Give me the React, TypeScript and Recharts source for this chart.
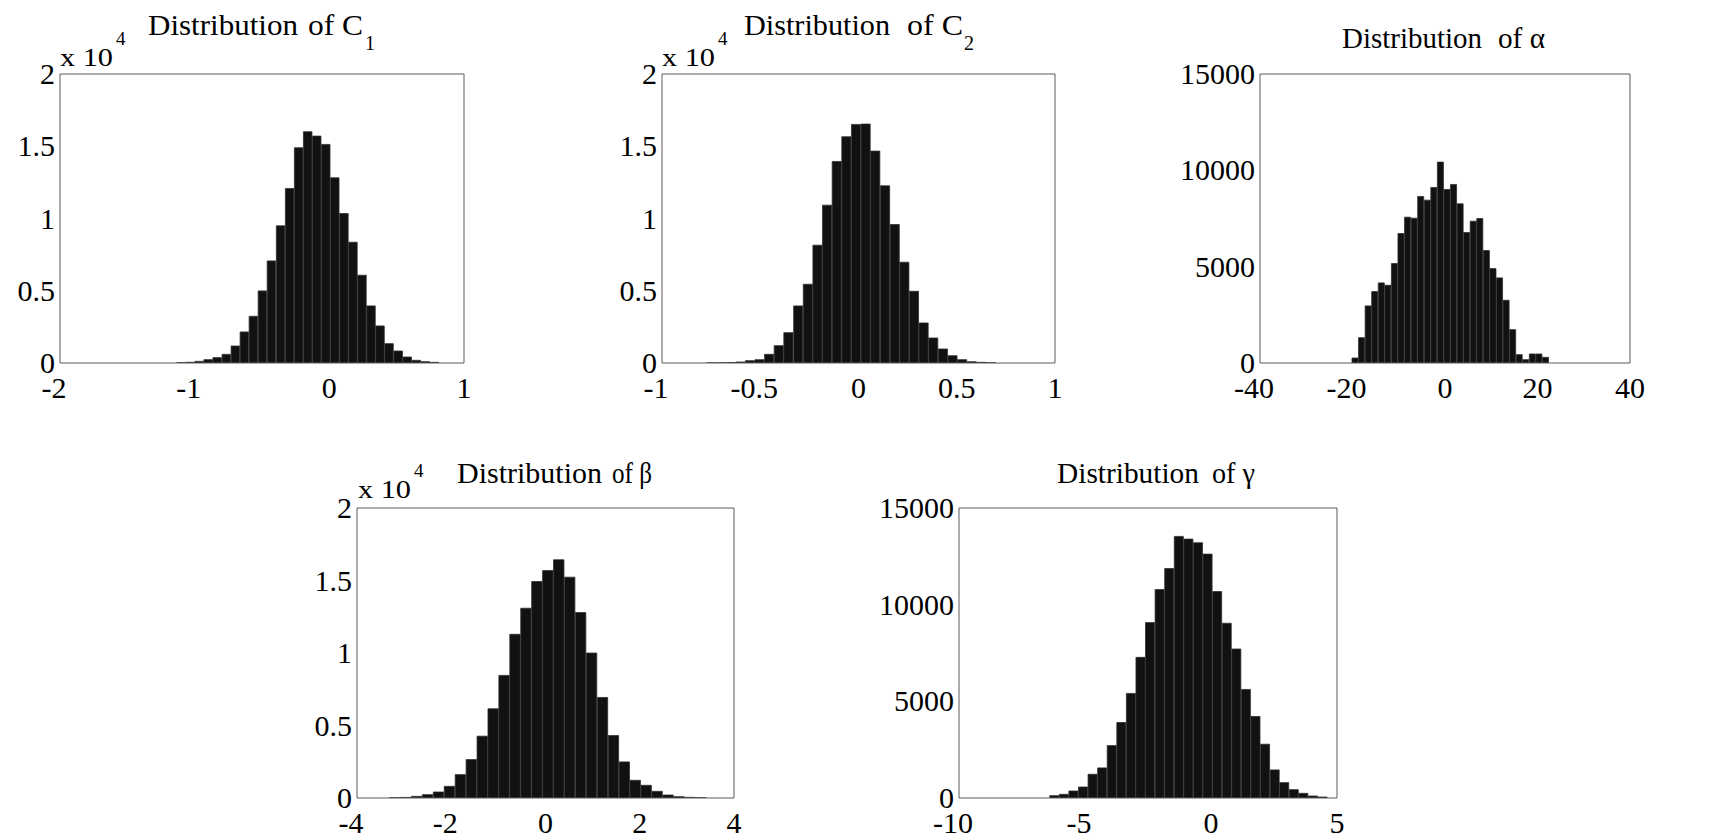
import React from 'react';
import { BarChart, Bar, XAxis, YAxis } from 'recharts';

const FONT = '"Liberation Serif", "Times New Roman", serif';

// bin centres and counts of the five histograms
const c1Bins = [-1.099, -1.032, -0.965, -0.898, -0.831, -0.763, -0.696, -0.629, -0.562, -0.495, -0.428, -0.36, -0.293, -0.226, -0.159, -0.092, -0.025, 0.042, 0.11, 0.177, 0.244, 0.311, 0.378, 0.445, 0.513, 0.58, 0.647, 0.714, 0.781];
const c1Counts = [20, 50, 115, 231, 370, 600, 1178, 2148, 3233, 4988, 7067, 9492, 12079, 14896, 16005, 15704, 15127, 12818, 10346, 8360, 6074, 3949, 2564, 1339, 831, 416, 185, 92, 46];

const c2Bins = [-0.748, -0.699, -0.65, -0.601, -0.552, -0.503, -0.454, -0.405, -0.356, -0.306, -0.257, -0.208, -0.159, -0.11, -0.061, -0.012, 0.037, 0.086, 0.136, 0.185, 0.234, 0.283, 0.332, 0.381, 0.43, 0.479, 0.528, 0.577, 0.627, 0.675];
const c2Counts = [8, 15, 30, 70, 162, 231, 600, 1201, 2102, 3949, 5450, 8152, 10923, 13949, 15658, 16513, 16536, 14665, 12263, 9584, 6975, 4965, 2771, 1732, 970, 508, 231, 92, 46, 20];

const alphaBins = [-19.4, -17.98, -16.56, -15.14, -13.72, -12.3, -10.88, -9.46, -8.04, -6.62, -5.2, -3.78, -2.36, -0.94, 0.48, 1.9, 3.32, 4.74, 6.16, 7.58, 9.0, 10.42, 11.84, 13.26, 14.68, 16.1, 17.52, 18.94, 20.36, 21.78];
const alphaCounts = [260, 1316, 2962, 3707, 4157, 4036, 5162, 6721, 7569, 7517, 8643, 8453, 9111, 10427, 9007, 9267, 8262, 6773, 7362, 7500, 5837, 4902, 4417, 3256, 1732, 433, 173, 468, 468, 294];

const betaBins = [-3.193, -2.961, -2.729, -2.497, -2.265, -2.033, -1.801, -1.569, -1.337, -1.105, -0.874, -0.642, -0.41, -0.178, 0.054, 0.286, 0.518, 0.75, 0.982, 1.214, 1.446, 1.677, 1.909, 2.141, 2.373, 2.605, 2.837, 3.069, 3.301];
const betaCounts = [20, 40, 115, 230, 415, 806, 1613, 2650, 4263, 6152, 8456, 11290, 13088, 14931, 15691, 16429, 15230, 12788, 10000, 6935, 4309, 2488, 1221, 876, 461, 207, 92, 46, 20];

const gammaBins = [-6.21, -5.83, -5.45, -5.07, -4.689, -4.309, -3.929, -3.548, -3.168, -2.788, -2.409, -2.029, -1.648, -1.268, -0.888, -0.507, -0.127, 0.253, 0.633, 1.014, 1.394, 1.774, 2.154, 2.535, 2.915, 3.294, 3.674, 4.055, 4.435];
const gammaCounts = [121, 190, 363, 570, 1227, 1555, 2713, 3905, 5409, 7275, 9072, 10783, 11872, 13531, 13392, 13203, 12615, 10680, 9038, 7707, 5616, 4217, 2782, 1452, 795, 432, 242, 104, 52];

const c1XTicks = [-2, -1, 0, 1];
const c2XTicks = [-1, -0.5, 0, 0.5, 1];
const alphaXTicks = [-40, -20, 0, 20, 40];
const betaXTicks = [-4, -2, 0, 2, 4];
const gammaXTicks = [-10, -5, 0, 5];
const sciYTicks = [0, 5000, 10000, 15000, 20000];
const plainYTicks = [0, 5000, 10000, 15000];

const sciFormat = (v: number) => String(v / 10000);
const plainFormat = (v: number) => String(v);

const ML = 120;
const MT = 24;
const MR = 30;
const MB = 50;

// negative labels: digits sit on the tick, the minus hangs to the left
function XTick({ x, y, payload }: any) {
  return (
    <text x={x} y={y} dy={21} dx={payload.value < 0 ? -6 : 0} textAnchor='middle' fontSize={30} fontFamily={FONT} fill='#000'>
      {String(payload.value)}
    </text>
  );
}

function YTick({ x, y, payload, fmt }: any) {
  return (
    <text x={x} y={y} dy={10} textAnchor='end' fontSize={30} fontFamily={FONT} fill='#000'>
      {fmt(payload.value)}
    </text>
  );
}

function Hist({ bins, counts, binWidth, xTicks, yTicks, yFormat, box }: any) {
  const data = bins.map((x: number, i: number) => ({ x, n: counts[i] }));
  const xDomain = [xTicks[0], xTicks[xTicks.length - 1]];
  const yDomain = [0, yTicks[yTicks.length - 1]];
  const barSize = (binWidth / (xDomain[1] - xDomain[0])) * box.w - 0.5;

  return (
    <div style={{ position: 'absolute', left: box.x - ML, top: box.y - MT }}>
      <BarChart
        width={box.w + ML + MR}
        height={box.h + MT + MB}
        data={data}
        margin={{ top: MT, right: MR, bottom: 0, left: 0 }}
      >
        <XAxis
          xAxisId='b'
          type='number'
          dataKey='x'
          domain={xDomain}
          ticks={xTicks}
          interval={0}
          allowDataOverflow
          height={MB}
          tickLine={false}
          tickSize={0}
          tickMargin={14}
          stroke='#5a5a5a'
          tick={<XTick />}
        />
        <XAxis
          xAxisId='bm'
          type='number'
          dataKey='x'
          orientation='bottom'
          mirror
          domain={xDomain}
          ticks={xTicks}
          interval={0}
          allowDataOverflow
          axisLine={false}
          tick={false}
          tickSize={4}
          stroke='#5a5a5a'
        />
        <XAxis
          xAxisId='t'
          type='number'
          dataKey='x'
          orientation='top'
          mirror
          domain={xDomain}
          ticks={xTicks}
          interval={0}
          allowDataOverflow
          tick={false}
          tickSize={4}
          stroke='#5a5a5a'
        />
        <YAxis
          yAxisId='l'
          type='number'
          domain={yDomain}
          ticks={yTicks}
          interval={0}
          allowDataOverflow
          width={ML}
          tickLine={false}
          tickSize={0}
          tickMargin={5}
          stroke='#5a5a5a'
          tick={<YTick fmt={yFormat} />}
        />
        <YAxis
          yAxisId='lm'
          type='number'
          mirror
          domain={yDomain}
          ticks={yTicks}
          interval={0}
          allowDataOverflow
          axisLine={false}
          tick={false}
          tickSize={4}
          stroke='#5a5a5a'
        />
        <YAxis
          yAxisId='r'
          type='number'
          orientation='right'
          mirror
          domain={yDomain}
          ticks={yTicks}
          interval={0}
          allowDataOverflow
          tick={false}
          tickSize={4}
          stroke='#5a5a5a'
        />
        <Bar
          xAxisId='b'
          yAxisId='l'
          dataKey='n'
          fill='#111'
          stroke='#303030'
          strokeWidth={0.8}
          barSize={barSize}
          isAnimationActive={false}
        />
      </BarChart>
    </div>
  );
}

// title pieces: main word, "of" + symbol, optional subscript
function Title({ x, ofX, y, len, ofLen, of, sub, subX }: any) {
  return (
    <g fontFamily={FONT} fill='#000'>
      <text x={x} y={y} fontSize={29} textLength={len} lengthAdjust='spacingAndGlyphs'>
        Distribution
      </text>
      <text x={ofX} y={y} fontSize={29} textLength={ofLen} lengthAdjust='spacingAndGlyphs'>
        {of}
      </text>
      {sub && (
        <text x={subX} y={y + 15} fontSize={20}>
          {sub}
        </text>
      )}
    </g>
  );
}

function Exponent({ x, y }: any) {
  return (
    <g fontFamily={FONT} fill='#000'>
      <text x={x} y={y} fontSize={25} textLength={53} lengthAdjust='spacingAndGlyphs'>
        x 10
      </text>
      <text x={x + 56} y={y - 21} fontSize={19}>
        4
      </text>
    </g>
  );
}

export default function App() {
  return (
    <div style={{ position: 'absolute', left: 0, top: 0, width: 1714, height: 840, background: '#fff' }}>
      <Hist bins={c1Bins} counts={c1Counts} binWidth={0.0672} xTicks={c1XTicks} yTicks={sciYTicks} yFormat={sciFormat} box={{ x: 60, y: 74, w: 404, h: 289 }} />
      <Hist bins={c2Bins} counts={c2Counts} binWidth={0.0491} xTicks={c2XTicks} yTicks={sciYTicks} yFormat={sciFormat} box={{ x: 662, y: 74, w: 393, h: 289 }} />
      <Hist bins={alphaBins} counts={alphaCounts} binWidth={1.42} xTicks={alphaXTicks} yTicks={plainYTicks} yFormat={plainFormat} box={{ x: 1260, y: 74, w: 370, h: 289 }} />
      <Hist bins={betaBins} counts={betaCounts} binWidth={0.232} xTicks={betaXTicks} yTicks={sciYTicks} yFormat={sciFormat} box={{ x: 357, y: 508, w: 377, h: 290 }} />
      <Hist bins={gammaBins} counts={gammaCounts} binWidth={0.3802} xTicks={gammaXTicks} yTicks={plainYTicks} yFormat={plainFormat} box={{ x: 959, y: 508, w: 378, h: 290 }} />
      <svg width={1714} height={840} style={{ position: 'absolute', left: 0, top: 0, pointerEvents: 'none' }}>
        <Title x={148} y={35} len={150} ofX={308} ofLen={55} of='of C' sub='1' subX={365} />
        <Title x={744} y={35} len={146} ofX={907} ofLen={56} of='of C' sub='2' subX={964} />
        <Title x={1342} y={48} len={140} ofX={1498} ofLen={47} of='of α' />
        <Title x={457} y={483} len={145} ofX={612} ofLen={40} of='of β' />
        <Title x={1057} y={483} len={142} ofX={1212} ofLen={43} of='of γ' />
        <Exponent x={60} y={66} />
        <Exponent x={662} y={66} />
        <Exponent x={358} y={498} />
      </svg>
    </div>
  );
}
